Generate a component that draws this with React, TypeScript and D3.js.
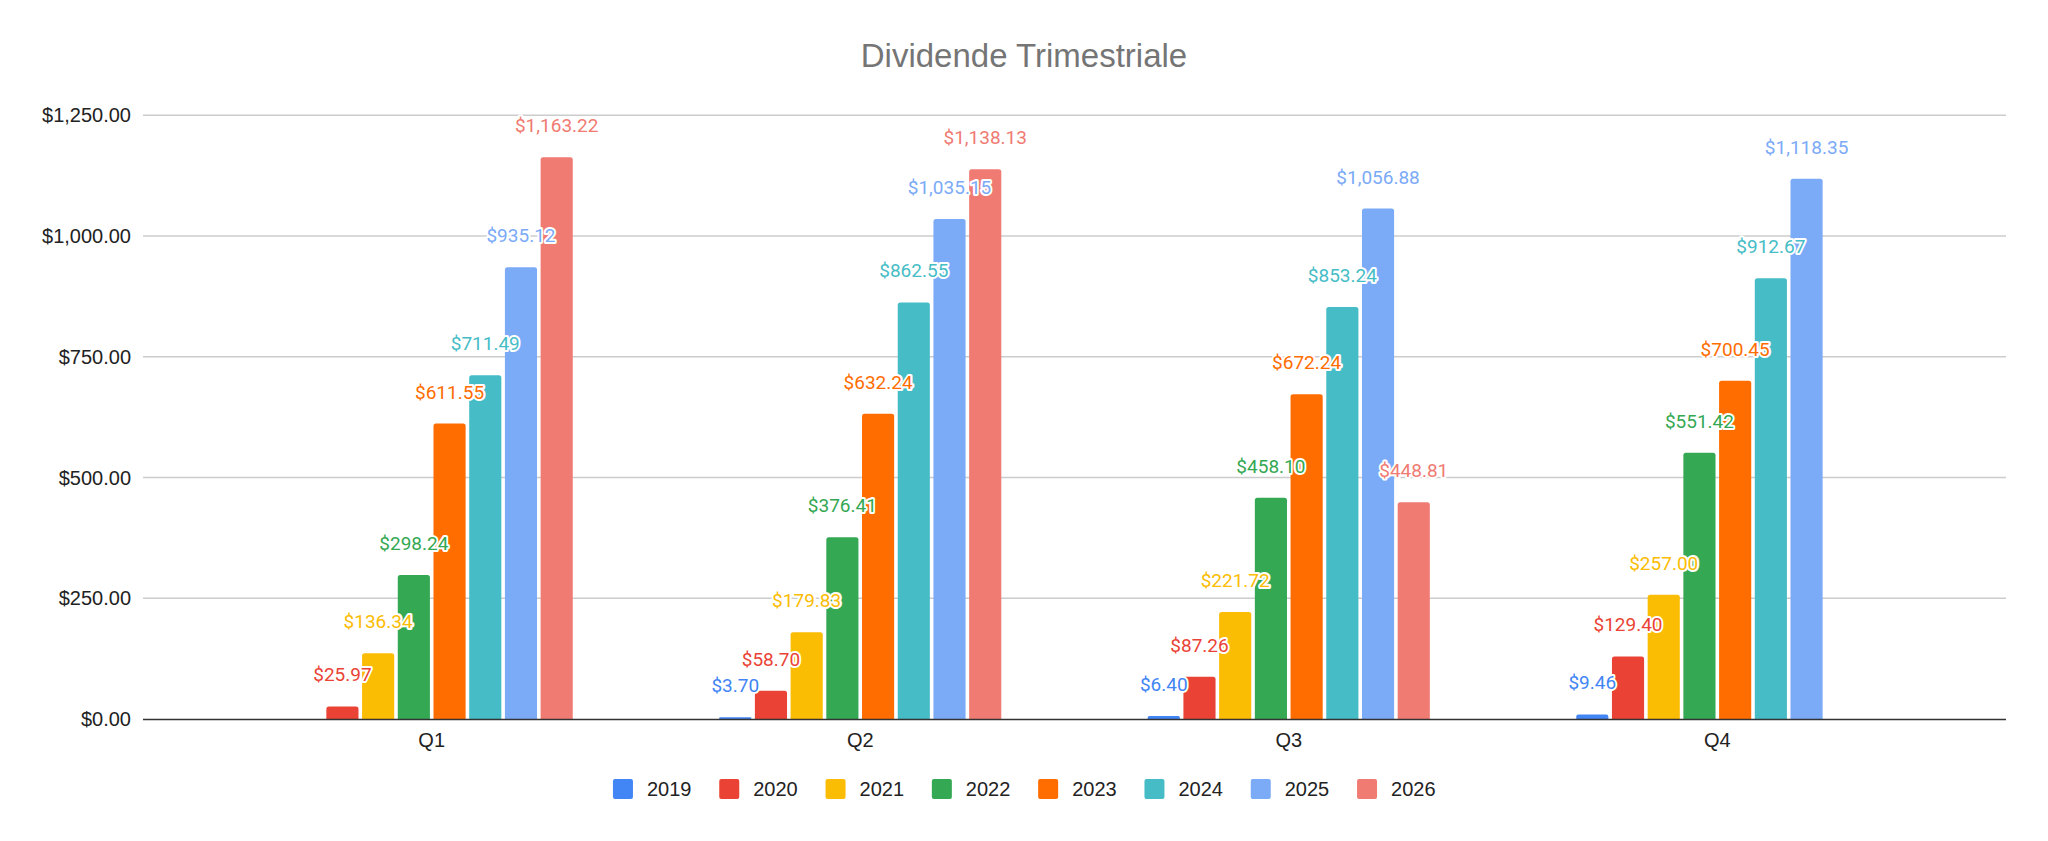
import React, { useEffect, useRef } from "react";
import * as d3 from "d3";

const quarters = ["Q1", "Q2", "Q3", "Q4"];
const years = ["2019", "2020", "2021", "2022", "2023", "2024", "2025", "2026"];
const colors = ["#4285F4", "#EA4335", "#FBBC04", "#34A853", "#FF6D01", "#46BDC6", "#7BAAF7", "#F07B72"];

// one array per year, values for Q1..Q4 (null = no bar)
const v2019 = [null, 3.7, 6.4, 9.46];
const v2020 = [25.97, 58.7, 87.26, 129.4];
const v2021 = [136.34, 179.83, 221.72, 257.0];
const v2022 = [298.24, 376.41, 458.1, 551.42];
const v2023 = [611.55, 632.24, 672.24, 700.45];
const v2024 = [711.49, 862.55, 853.24, 912.67];
const v2025 = [935.12, 1035.15, 1056.88, 1118.35];
const v2026 = [1163.22, 1138.13, 448.81, null];
const series = [v2019, v2020, v2021, v2022, v2023, v2024, v2025, v2026];

const yTicks = [0, 250, 500, 750, 1000, 1250];

const title = "Dividende Trimestriale";

const width = 2048;
const height = 841;

const App: React.FC = () => {
  const svgRef = useRef<SVGSVGElement>(null);

  useEffect(() => {
    if (!svgRef.current) return;
    const svg = d3.select(svgRef.current);
    svg.selectAll("*").remove();

    const plotLeft = 143;
    const plotRight = 2006;

    const x0 = d3
      .scaleBand()
      .domain(quarters)
      .range([plotLeft, plotRight])
      .paddingInner(0)
      .paddingOuter(0.1737);

    const x1 = d3
      .scaleBand()
      .domain(years)
      .range([0, x0.bandwidth()])
      .paddingInner(0.1)
      .paddingOuter(2.05);

    const y = d3.scaleLinear().domain([0, 1250]).range([719, 115.25]);

    const money = (v: number) => "$" + d3.format(",.2f")(v);

    // title
    svg
      .append("text")
      .attr("x", width / 2)
      .attr("y", 67)
      .attr("text-anchor", "middle")
      .style("font-family", "Arial, 'Liberation Sans', sans-serif")
      .style("font-size", "33px")
      .attr("fill", "#757575")
      .text(title);

    // gridlines + y labels
    const grid = svg.append("g");
    yTicks.forEach((t) => {
      if (t !== 0) {
        grid
          .append("line")
          .attr("x1", plotLeft)
          .attr("x2", plotRight)
          .attr("y1", y(t))
          .attr("y2", y(t))
          .attr("stroke", "#cccccc")
          .attr("stroke-width", 1.3);
      }
      grid
        .append("text")
        .attr("x", 131)
        .attr("y", y(t) + 7)
        .attr("text-anchor", "end")
        .style("font-family", "Arial, 'Liberation Sans', sans-serif")
        .style("font-size", "20px")
        .attr("fill", "#222222")
        .text(money(t));
    });

    // bars
    const groups = svg
      .append("g")
      .selectAll("g")
      .data(quarters)
      .enter()
      .append("g")
      .attr("transform", (q) => `translate(${x0(q)},0)`);

    groups.each(function (q, qi) {
      const g = d3.select(this);
      years.forEach((yr, si) => {
        const v = series[si][qi];
        if (v == null) return;
        const x = x1(yr) || 0;
        const w = x1.bandwidth();
        const top = y(v);
        const h = y(0) - top;
        const r = Math.min(2.5, h / 2);
        g.append("path")
          .attr(
            "d",
            `M${x},${y(0)}V${top + r}Q${x},${top} ${x + r},${top}H${x + w - r}Q${x + w},${top} ${x + w},${top + r}V${y(0)}Z`
          )
          .attr("fill", colors[si]);
      });
    });

    // baseline
    svg
      .append("line")
      .attr("x1", plotLeft)
      .attr("x2", plotRight)
      .attr("y1", y(0) + 0.5)
      .attr("y2", y(0) + 0.5)
      .attr("stroke", "#333333")
      .attr("stroke-width", 1.6);

    // value labels on top of bars
    const labels = svg.append("g");
    quarters.forEach((q, qi) => {
      years.forEach((yr, si) => {
        const v = series[si][qi];
        if (v == null) return;
        labels
          .append("text")
          .attr("x", (x0(q) || 0) + (x1(yr) || 0) + x1.bandwidth() / 2)
          .attr("y", y(v) - 25)
          .attr("text-anchor", "middle")
          .style("font-family", "Roboto, sans-serif")
          .style("font-size", "19px")
          .style("paint-order", "stroke")
          .attr("stroke", "#ffffff")
          .attr("stroke-width", 4)
          .attr("stroke-linejoin", "round")
          .attr("fill", colors[si])
          .text(money(v));
      });
    });

    // x labels
    svg
      .append("g")
      .selectAll("text")
      .data(quarters)
      .enter()
      .append("text")
      .attr("x", (q) => (x0(q) || 0) + x0.bandwidth() / 2)
      .attr("y", 747)
      .attr("text-anchor", "middle")
      .style("font-family", "Arial, 'Liberation Sans', sans-serif")
      .style("font-size", "20px")
      .attr("fill", "#222222")
      .text((q) => q);

    // legend
    const legendStep = 106.3;
    const legendWidth = legendStep * (years.length - 1) + 20 + 14 + 44;
    const legendX = width / 2 - legendWidth / 2;
    const legend = svg
      .append("g")
      .selectAll("g")
      .data(years)
      .enter()
      .append("g")
      .attr("transform", (_, i) => `translate(${legendX + i * legendStep},779)`);
    legend
      .append("rect")
      .attr("width", 20)
      .attr("height", 20)
      .attr("rx", 2)
      .attr("fill", (_, i) => colors[i]);
    legend
      .append("text")
      .attr("x", 34)
      .attr("y", 17)
      .style("font-family", "Arial, 'Liberation Sans', sans-serif")
      .style("font-size", "20px")
      .attr("fill", "#222222")
      .text((d) => d);
  }, []);

  return (
    <div style={{ position: "absolute", left: 0, top: 0 }}>
      <svg ref={svgRef} width={width} height={height} style={{ display: "block", background: "#ffffff" }}></svg>
    </div>
  );
};

export default App;
